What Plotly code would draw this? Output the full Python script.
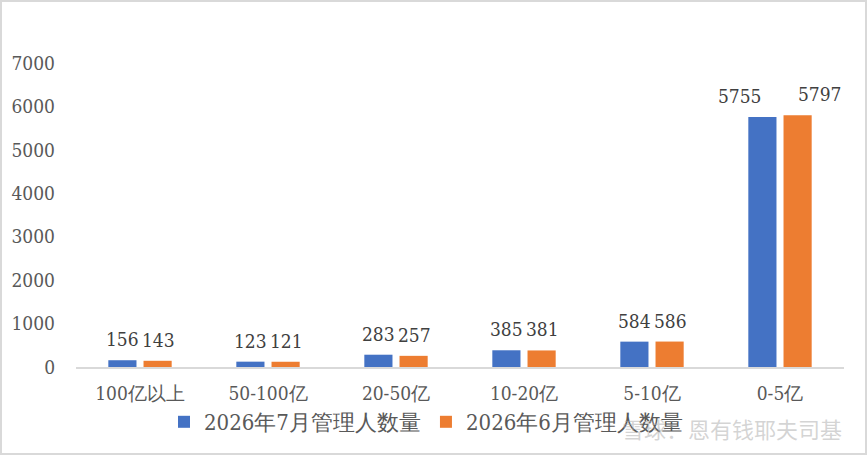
import plotly.graph_objects as go

categories = ["100亿以上", "50-100亿", "20-50亿", "10-20亿", "5-10亿", "0-5亿"]
series_jul = [156, 123, 283, 385, 584, 5755]
series_jun = [143, 121, 257, 381, 586, 5797]
series_names = ["2026年7月管理人数量", "2026年6月管理人数量"]
y_ticks = [0, 1000, 2000, 3000, 4000, 5000, 6000, 7000]

W, H = 867, 455
ML, MR, MT, MB = 76, 23, 63, 88
FONT = "DejaVu Serif Condensed"

fig = go.Figure()
for name, vals, col in [(series_names[0], series_jul, "#4472C4"),
                        (series_names[1], series_jun, "#ED7D31")]:
    fig.add_trace(go.Bar(
        x=categories, y=vals, name=name,
        marker=dict(color=col, line=dict(width=0)),
    ))

for side, vals in [(-1, series_jul), (1, series_jun)]:
    for c, v in zip(categories, vals):
        shift = 18 if v < 3000 else 40
        fig.add_annotation(x=c, y=v, text=str(v), showarrow=False,
                           xshift=side * shift, yanchor="bottom", yshift=8,
                           font=dict(size=19, color="#404040", family=FONT))

pw = W - ML - MR
ph = H - MT - MB
fig.add_shape(type="rect", xref="paper", yref="paper",
              x0=-(ML - 1) / pw, x1=1 + (MR - 1) / pw,
              y0=-(MB - 1) / ph, y1=1 + (MT - 1) / ph,
              line=dict(color="#d9d9d9", width=2), layer="below")

fig.add_annotation(text="雪球：恩有钱耶夫司基", xref="paper", yref="paper",
                   x=1, y=-(428 - MT - ph) / ph, xanchor="right", yanchor="middle",
                   showarrow=False,
                   font=dict(size=22, color="rgba(170,170,170,0.5)", family="Noto Sans CJK SC"))

fig.update_layout(
    width=W, height=H, autosize=False,
    margin=dict(l=ML, r=MR, t=MT, b=MB, autoexpand=False),
    paper_bgcolor="white", plot_bgcolor="white",
    barmode="group", bargap=0.45, bargroupgap=0.2,
    font=dict(family=FONT, size=19, color="#595959"),
    showlegend=True,
    legend=dict(orientation="h",
                x=(164 - ML) / pw, xanchor="left",
                y=-(422 - MT - ph) / ph, yanchor="middle",
                font=dict(size=22, color="#595959", family=FONT),
                itemwidth=30, tracegroupgap=0, bgcolor="rgba(0,0,0,0)"),
    xaxis=dict(showline=True, linecolor="#d9d9d9", linewidth=1.5,
               tickfont=dict(size=19, color="#595959", family=FONT), ticks="",
               ticklabelstandoff=8, showgrid=False, zeroline=False),
    yaxis=dict(range=[0, 7000], tickvals=y_ticks, showgrid=False, zeroline=False,
               showline=False, ticks="", ticklabelstandoff=20,
               tickfont=dict(size=19, color="#595959", family=FONT)),
)

fig.write_html("out.html", config={"displayModeBar": False},
               post_script="document.body.style.margin='0px';document.body.style.overflow='hidden';")
